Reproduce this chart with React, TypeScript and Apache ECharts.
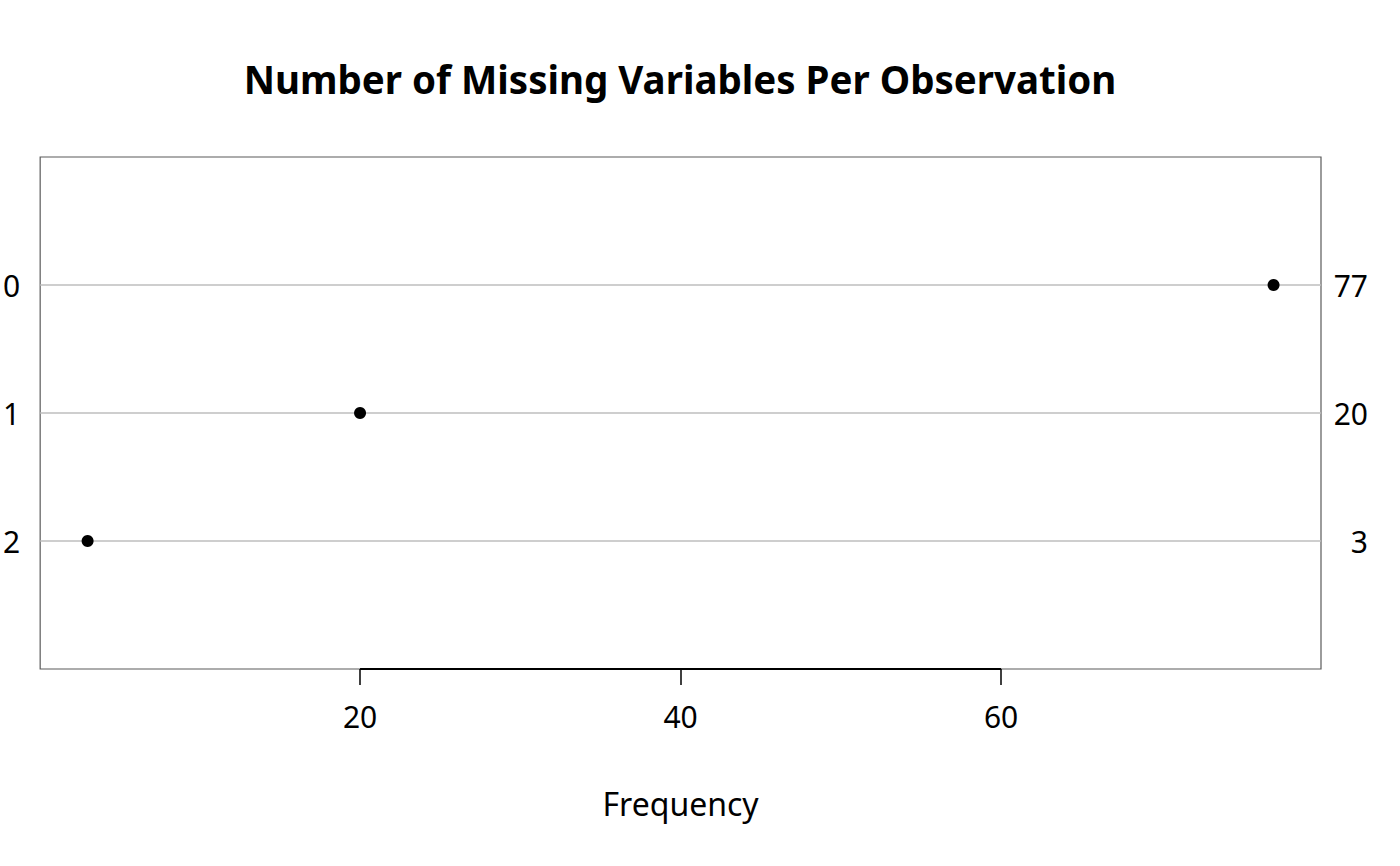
import React, { useEffect, useRef } from "react";
import * as echarts from "echarts";

const categories = ["0", "1", "2"];
const frequencies = [77, 20, 3];
const xTicks = [20, 40, 60];
const FONT = "Noto Sans";

export default function App() {
  const ref = useRef<HTMLDivElement>(null);
  useEffect(() => {
    document.body.style.margin = "0";
    const chart = echarts.init(ref.current!, null, { renderer: "svg" });
    const yVals = categories.map((_, i) => i);
    chart.setOption({
      animation: false,
      backgroundColor: "#ffffff",
      textStyle: { fontFamily: FONT },
      title: {
        text: "Number of Missing Variables Per Observation",
        left: 675,
        top: 54,
        textAlign: "center",
        textStyle: { fontFamily: FONT, fontSize: 38.5, fontWeight: "bold", color: "#000" },
      },
      grid: {
        left: 40,
        right: 79,
        top: 157,
        bottom: 197,
        show: true,
        borderColor: "#5a5a5a",
        borderWidth: 1.2,
        backgroundColor: "transparent",
      },
      xAxis: {
        type: "value",
        min: 0.04,
        max: 79.96,
        name: "Frequency",
        nameLocation: "middle",
        nameGap: 118,
        nameTextStyle: { fontFamily: FONT, fontSize: 32, color: "#000" },
        axisLine: { show: false, onZero: false },
        splitLine: { show: false },
        axisTick: {
          show: true,
          customValues: xTicks,
          length: 16,
          lineStyle: { color: "#000", width: 1.5 },
        },
        axisLabel: {
          show: true,
          customValues: xTicks,
          margin: 32,
          fontFamily: FONT,
          fontSize: 30,
          color: "#000",
        },
      },
      yAxis: [
        {
          type: "value",
          inverse: true,
          min: -1,
          max: 3,
          position: "left",
          axisLine: { show: false },
          axisTick: { show: false },
          splitLine: { show: false },
          axisLabel: {
            customValues: yVals,
            formatter: (v: number) => categories[v] ?? "",
            margin: 20,
            fontFamily: FONT,
            fontSize: 30,
            color: "#000",
          },
        },
        {
          type: "value",
          inverse: true,
          min: -1,
          max: 3,
          position: "right",
          axisLine: { show: false },
          axisTick: { show: false },
          splitLine: { show: false },
          axisLabel: {
            customValues: yVals,
            formatter: (v: number) => (frequencies[v] !== undefined ? String(frequencies[v]) : ""),
            align: "right",
            margin: 47,
            fontFamily: FONT,
            fontSize: 30,
            color: "#000",
          },
        },
      ],
      series: [
        {
          type: "scatter",
          yAxisIndex: 0,
          symbol: "circle",
          symbolSize: 12,
          itemStyle: { color: "#000", opacity: 1 },
          data: frequencies.map((f, i) => [f, i]),
          z: 5,
          markLine: {
            silent: true,
            symbol: "none",
            label: { show: false },
            z: 1,
            data: [
              ...yVals.map((v) => ({ yAxis: v, lineStyle: { color: "#bebebe", width: 1.5, type: "solid" } })),
              [
                { coord: [xTicks[0], 3], lineStyle: { color: "#000", width: 2, type: "solid" } },
                { coord: [xTicks[xTicks.length - 1], 3] },
              ],
            ],
          },
        },
      ],
    });
    return () => chart.dispose();
  }, []);
  return <div ref={ref} style={{ width: 1400, height: 866 }} />;
}
